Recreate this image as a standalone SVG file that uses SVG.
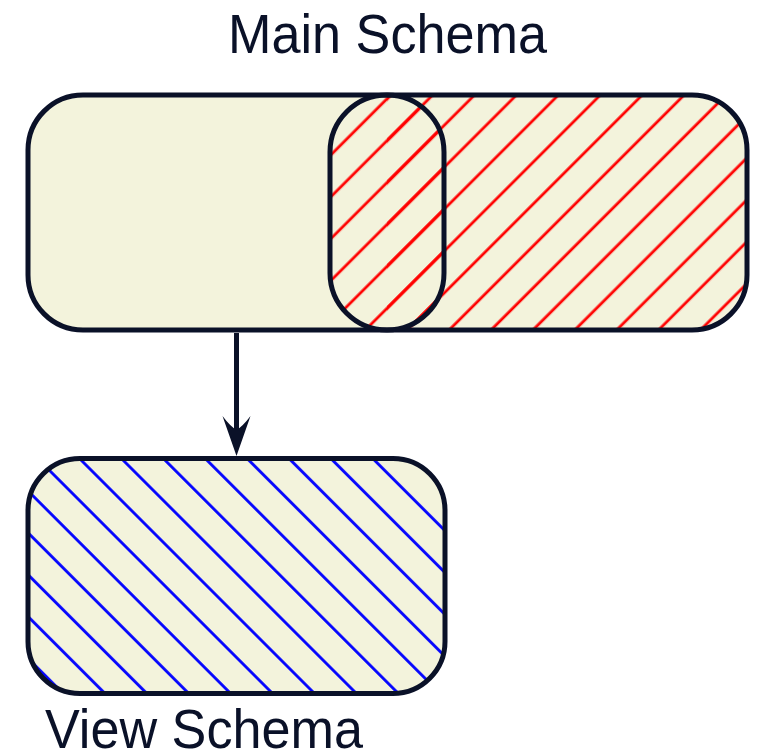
<svg xmlns="http://www.w3.org/2000/svg" width="758" height="752" viewBox="0 0 758 752">
  <style>
    .box { fill: #f3f3dc; }
    .edge { fill: none; stroke: #0a1128; stroke-width: 5; }
    .label { font-family: "Liberation Sans", "DejaVu Sans", sans-serif; font-size: 55px; fill: #0a1128; }
  </style>
  <defs>
    <pattern id="redHatch" patternUnits="userSpaceOnUse" width="29.63" height="10" patternTransform="rotate(45)">
      <line x1="17.6" y1="-1" x2="17.6" y2="11" stroke="#ff0000" stroke-width="2.8"/>
    </pattern>
    <pattern id="blueHatch" patternUnits="userSpaceOnUse" width="29.63" height="10" patternTransform="rotate(-45) translate(14,0)">
      <line x1="14.3" y1="-1" x2="14.3" y2="11" stroke="#0000ff" stroke-width="2.8"/>
    </pattern>
    <clipPath id="mainClip">
      <rect x="28" y="95" width="719" height="235" rx="55" ry="55"/>
    </clipPath>
    <clipPath id="viewClip">
      <rect x="28" y="458.5" width="417" height="235" rx="52" ry="52"/>
    </clipPath>
  </defs>

  <g id="main-schema">
    <rect class="box" x="28" y="95" width="719" height="235" rx="55" ry="55"/>
    <rect x="387" y="90" width="365" height="245" fill="url(#redHatch)" clip-path="url(#mainClip)"/>
    <rect x="330" y="95" width="114" height="235" rx="57" ry="57" fill="url(#redHatch)"/>
    <rect class="edge" x="28" y="95" width="719" height="235" rx="55" ry="55"/>
    <text class="label" x="228" y="53.3" textLength="319" lengthAdjust="spacingAndGlyphs">Main Schema</text>
  </g>

  <g id="subset">
    <rect class="edge" x="330" y="95" width="114" height="235" rx="57" ry="57"/>
  </g>

  <g id="view-schema">
    <rect class="box" x="28" y="458.5" width="417" height="235" rx="52" ry="52"/>
    <rect x="20" y="450" width="430" height="250" fill="url(#blueHatch)" clip-path="url(#viewClip)"/>
    <rect class="edge" x="28" y="458.5" width="417" height="235" rx="52" ry="52"/>
    <text class="label" x="45" y="748" textLength="318" lengthAdjust="spacingAndGlyphs">View Schema</text>
  </g>

  <g id="connectors">
    <line x1="236.5" y1="333" x2="236.5" y2="432" stroke="#0a1128" stroke-width="5"/>
    <path d="M236.5,456 L222.5,416 Q230,426 236.5,430 Q243,426 250.5,416 Z" fill="#0a1128"/>
  </g>
</svg>
